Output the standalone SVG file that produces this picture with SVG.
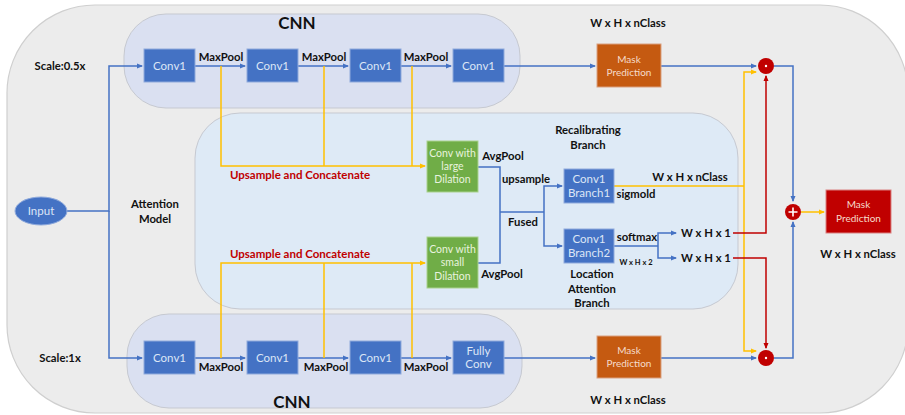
<svg xmlns="http://www.w3.org/2000/svg" width="905" height="415" viewBox="0 0 905 415">
<defs>
<style>
text{font-family:Lato,"Liberation Sans",sans-serif;}
.lb{font-weight:bold;font-size:11.3px;fill:#111;text-anchor:middle;}
.ttl{font-weight:bold;font-size:17px;fill:#111;text-anchor:middle;}
.red{font-weight:bold;font-size:11.5px;fill:#c00000;text-anchor:middle;}
.bx{fill:#4472c4;stroke:#8faadc;stroke-width:1;}
.gr{fill:#70ad47;stroke:#a9d18e;stroke-width:1;}
.or{fill:#c55a11;stroke:#d9a080;stroke-width:1;}
.rd{fill:#c00000;stroke:#d98080;stroke-width:1;}
.bt{font-size:11.5px;fill:#dde6f6;text-anchor:middle;}
.gt{font-size:10.5px;fill:#e8f3de;text-anchor:middle;}
.mt{font-size:10px;fill:#f6dccb;text-anchor:middle;}
.bl{fill:none;stroke:#4472c4;stroke-width:1.5;}
.yl{fill:none;stroke:#ffc000;stroke-width:1.5;}
.rl{fill:none;stroke:#c00000;stroke-width:1.5;}
</style>
<marker id="ab" markerWidth="6" markerHeight="6" refX="5" refY="3" orient="auto" markerUnits="userSpaceOnUse"><path d="M0,0.5 L6,3 L0,5.5z" fill="#4472c4"/></marker>
<marker id="ay" markerWidth="6" markerHeight="6" refX="5" refY="3" orient="auto" markerUnits="userSpaceOnUse"><path d="M0,0.5 L6,3 L0,5.5z" fill="#ffc000"/></marker>
<marker id="ar" markerWidth="6" markerHeight="6" refX="5" refY="3" orient="auto" markerUnits="userSpaceOnUse"><path d="M0,0.5 L6,3 L0,5.5z" fill="#c00000"/></marker>
</defs>
<rect x="0" y="0" width="905" height="415" fill="#ffffff"/>
<g id="outer"><rect x="7" y="5" width="901" height="408" rx="88" fill="#ececec" stroke="#cfcfcf" stroke-width="1.2"/></g>
<g id="cnn-top"><rect x="124" y="14" width="396" height="94" rx="42" fill="#dae0f1" stroke="#c6c9d1" stroke-width="1"/><text class="ttl" x="297" y="29">CNN</text></g>
<g id="cnn-bottom"><rect x="127" y="314" width="395" height="94" rx="42" fill="#dae0f1" stroke="#c6c9d1" stroke-width="1"/><text class="ttl" x="292" y="408">CNN</text></g>
<g id="attention"><rect x="195" y="113" width="543" height="196" rx="45" fill="#deeaf6" stroke="#c6c9d1" stroke-width="1"/></g>

<g id="connectors">
<path class="bl" d="M67,211 H109 V66 H142" marker-end="url(#ab)"/>
<path class="bl" d="M109,211 V358 H142" marker-end="url(#ab)"/>
<path class="bl" d="M195,66 H245" marker-end="url(#ab)"/>
<path class="bl" d="M298,66 H348" marker-end="url(#ab)"/>
<path class="bl" d="M401,66 H451" marker-end="url(#ab)"/>
<path class="bl" d="M504,66 H595" marker-end="url(#ab)"/>
<path class="bl" d="M661,66 H756" marker-end="url(#ab)"/>
<path class="bl" d="M195,358 H245" marker-end="url(#ab)"/>
<path class="bl" d="M298,358 H348" marker-end="url(#ab)"/>
<path class="bl" d="M401,358 H451" marker-end="url(#ab)"/>
<path class="bl" d="M504,358 H595" marker-end="url(#ab)"/>
<path class="bl" d="M661,358 H756" marker-end="url(#ab)"/>
<path class="yl" d="M221,66 V166 H425" marker-end="url(#ay)"/>
<path class="yl" d="M324,66 V166"/>
<path class="yl" d="M412,66 V166"/>
<path class="yl" d="M221,358 V263 H425" marker-end="url(#ay)"/>
<path class="yl" d="M324,358 V263"/>
<path class="yl" d="M412,358 V263"/>
<path class="bl" d="M478,167 H500 V263 H478"/>
<path class="bl" d="M500,212 H544"/>
<path class="bl" d="M544,212 V186 H562" marker-end="url(#ab)"/>
<path class="bl" d="M544,212 V246 H562" marker-end="url(#ab)"/>
<path class="bl" d="M614,246 H658"/>
<path class="bl" d="M658,246 V233 H676" marker-end="url(#ab)"/>
<path class="bl" d="M658,246 V258 H676" marker-end="url(#ab)"/>
<path class="yl" d="M614,186 H744"/>
<path class="yl" d="M744,186 V72 H756" marker-end="url(#ay)"/>
<path class="yl" d="M744,186 V351 H756" marker-end="url(#ay)"/>
<path class="rl" d="M733,233 H766 V76" marker-end="url(#ar)"/>
<path class="rl" d="M733,258 H766 V348" marker-end="url(#ar)"/>
<path class="bl" d="M774,66 H793 V201" marker-end="url(#ab)"/>
<path class="bl" d="M774,358 H793 V222" marker-end="url(#ab)"/>
<path class="yl" d="M801,212 H824" marker-end="url(#ay)"/>
</g>

<g id="input"><ellipse cx="41" cy="211" rx="26" ry="14" fill="#4472c4" stroke="#8faadc"/><text class="bt" x="41" y="215">Input</text></g>
<g id="conv-t1"><rect class="bx" x="144" y="49" width="51" height="33"/><text class="bt" x="169.5" y="70">Conv1</text></g>
<g id="conv-t2"><rect class="bx" x="247" y="49" width="51" height="33"/><text class="bt" x="272.5" y="70">Conv1</text></g>
<g id="conv-t3"><rect class="bx" x="350" y="49" width="51" height="33"/><text class="bt" x="375.5" y="70">Conv1</text></g>
<g id="conv-t4"><rect class="bx" x="453" y="49" width="51" height="33"/><text class="bt" x="478.5" y="70">Conv1</text></g>
<g id="conv-b1"><rect class="bx" x="144" y="341" width="51" height="33"/><text class="bt" x="169.5" y="362">Conv1</text></g>
<g id="conv-b2"><rect class="bx" x="247" y="341" width="51" height="33"/><text class="bt" x="272.5" y="362">Conv1</text></g>
<g id="conv-b3"><rect class="bx" x="350" y="341" width="51" height="33"/><text class="bt" x="375.5" y="362">Conv1</text></g>
<g id="fully-conv"><rect class="bx" x="453" y="341" width="51" height="33"/><text class="bt" x="478.5" y="355">Fully</text><text class="bt" x="478.5" y="368">Conv</text></g>
<g id="mask-top"><rect class="or" x="597" y="44" width="64" height="43"/><text class="mt" x="629" y="63">Mask</text><text class="mt" x="629" y="76">Prediction</text></g>
<g id="mask-bottom"><rect class="or" x="597" y="336" width="64" height="42"/><text class="mt" x="629" y="354">Mask</text><text class="mt" x="629" y="367">Prediction</text></g>
<g id="conv-large"><rect class="gr" x="427" y="141" width="51" height="51"/><text class="gt" x="452.5" y="157">Conv with</text><text class="gt" x="452.5" y="170">large</text><text class="gt" x="452.5" y="183">Dilation</text></g>
<g id="conv-small"><rect class="gr" x="427" y="237" width="51" height="51"/><text class="gt" x="452.5" y="253">Conv with</text><text class="gt" x="452.5" y="266">small</text><text class="gt" x="452.5" y="280">Dilation</text></g>
<g id="branch1"><rect class="bx" x="564" y="169" width="50" height="34"/><text class="bt" x="589" y="183">Conv1</text><text class="bt" x="589" y="197">Branch1</text></g>
<g id="branch2"><rect class="bx" x="564" y="229" width="50" height="34"/><text class="bt" x="589" y="243">Conv1</text><text class="bt" x="589" y="257">Branch2</text></g>
<g id="mul-top"><circle cx="766" cy="66" r="8" fill="#c00000"/><circle cx="766" cy="66" r="1.2" fill="#fff"/></g>
<g id="mul-bottom"><circle cx="766" cy="358" r="8" fill="#c00000"/><circle cx="766" cy="358" r="1.2" fill="#fff"/></g>
<g id="add"><circle cx="793" cy="212" r="8" fill="#c00000"/><path d="M788.5,212 H797.5 M793,207.5 V216.5" stroke="#fff" stroke-width="1.6"/></g>
<g id="mask-final"><rect class="rd" x="826" y="190" width="65" height="43"/><text class="mt" x="858.5" y="208">Mask</text><text class="mt" x="858.5" y="222">Prediction</text></g>

<g id="labels">
<text class="lb" x="60" y="70">Scale:0.5x</text>
<text class="lb" x="60" y="362">Scale:1x</text>
<text class="lb" x="155" y="208">Attention</text>
<text class="lb" x="155" y="223">Model</text>
<text class="lb" x="221" y="61">MaxPool</text>
<text class="lb" x="324" y="61">MaxPool</text>
<text class="lb" x="426" y="61">MaxPool</text>
<text class="lb" x="221" y="371">MaxPool</text>
<text class="lb" x="326" y="371">MaxPool</text>
<text class="lb" x="426" y="371">MaxPool</text>
<text class="red" x="300" y="179">Upsample and Concatenate</text>
<text class="red" x="300" y="258">Upsample and Concatenate</text>
<text class="lb" x="628" y="27">W x H x nClass</text>
<text class="lb" x="628" y="404">W x H x nClass</text>
<text class="lb" x="858" y="258">W x H x nClass</text>
<text class="lb" x="588" y="134">Recalibrating</text>
<text class="lb" x="588" y="149">Branch</text>
<text class="lb" x="503" y="160">AvgPool</text>
<text class="lb" x="526" y="183">upsample</text>
<text class="lb" x="523" y="226">Fused</text>
<text class="lb" x="502" y="278">AvgPool</text>
<text class="lb" x="636" y="198">sigmold</text>
<text class="lb" x="690" y="181">W x H x nClass</text>
<text class="lb" x="637" y="241">softmax</text>
<text class="lb" x="636" y="265" style="font-size:7.5px">W x H x 2</text>
<text class="lb" x="706" y="237">W x H x 1</text>
<text class="lb" x="706" y="262">W x H x 1</text>
<text class="lb" x="592" y="278">Location</text>
<text class="lb" x="592" y="293">Attention</text>
<text class="lb" x="592" y="307">Branch</text>
</g>
</svg>
